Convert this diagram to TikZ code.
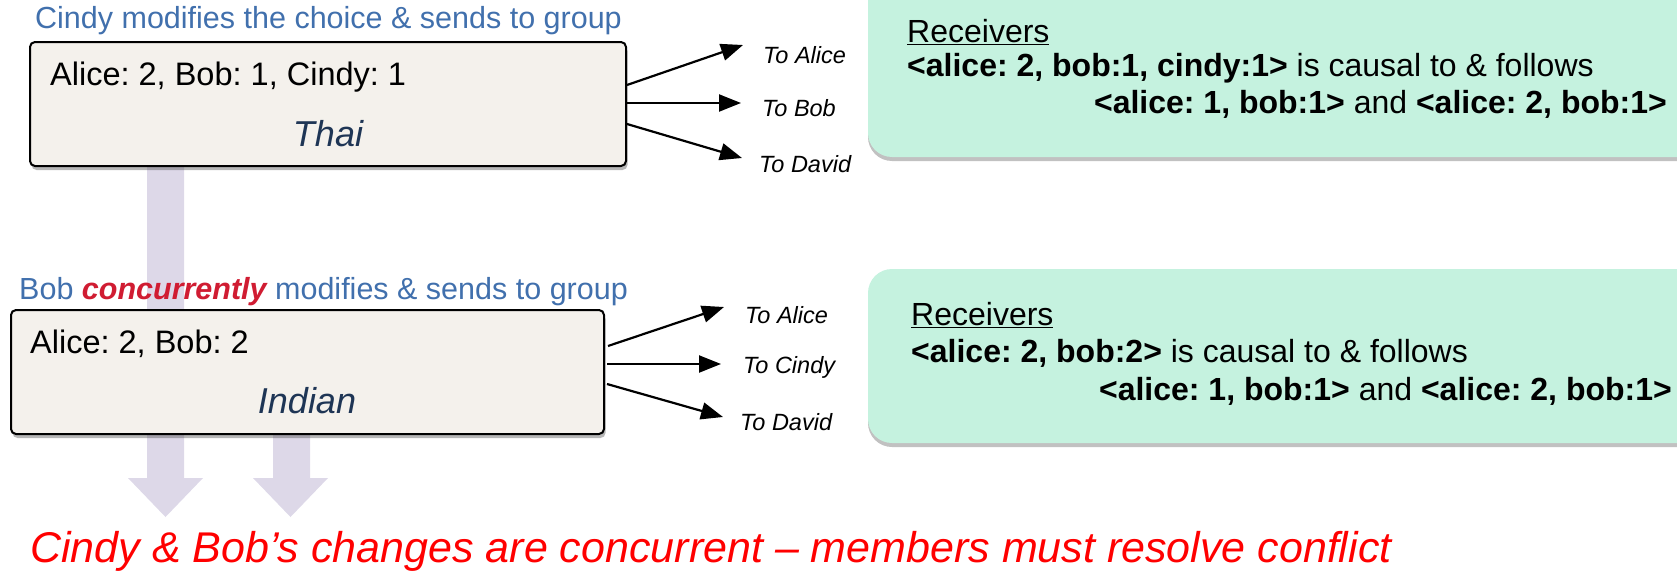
\documentclass[tikz,border=0pt]{standalone}
\usepackage{fontspec}
\setmainfont{Liberation Sans}
\usetikzlibrary{shadows,arrows.meta}
\definecolor{capblue}{HTML}{4170AD}
\definecolor{boxfill}{HTML}{F4F1EC}
\definecolor{valblue}{HTML}{1E3555}
\definecolor{mint}{HTML}{C5F2DF}
\definecolor{lav}{HTML}{DDD8E8}
\definecolor{concred}{HTML}{D01C32}
\newcommand{\fsz}[1]{\fontsize{#1}{#1}\selectfont}
\begin{document}
\frenchspacing
\begin{tikzpicture}[x=1pt,y=-1pt,
  msgbox/.style={draw=black, line width=2pt, fill=boxfill, rounded corners=5pt, inner sep=0pt,
    drop shadow={shadow xshift=1.5pt, shadow yshift=-4pt, opacity=0.4, fill=black!70}},
  recvbox/.style={fill=mint, rounded corners=24pt, inner sep=0pt,
    drop shadow={shadow xshift=0pt, shadow yshift=-4pt, opacity=0.35, fill=black!70}},
  caption/.style={anchor=west, inner sep=0pt, text=capblue, font=\fsz{30.5}},
  vals/.style={anchor=west, inner sep=0pt, font=\fsz{32.5}},
  dish/.style={inner sep=0pt, text=valblue, font=\fsz{36}\itshape},
  tolabel/.style={anchor=west, inner sep=0pt, font=\fsz{23.5}\itshape},
  recvtext/.style={inner sep=0pt, font=\fsz{32}},
  sendarrow/.style={line width=2.2pt, -{Triangle[length=22pt,width=17pt]}},
  bigarrow/.style={fill=lav}
]
\useasboundingbox (0,0) rectangle (1677,570);

% purple flow arrows (behind boxes)
\fill[bigarrow] (147,150) -- (184,150) -- (184,478) -- (203,478) -- (165.5,517) -- (128,478) -- (147,478) -- cycle;
\fill[bigarrow] (273,400) -- (310,400) -- (310,478) -- (328,478) -- (290.5,517) -- (253,478) -- (273,478) -- cycle;

% top section
\node[caption] (cap1) at (35,21) {Cindy modifies the choice \& sends to group};
\node[msgbox, minimum width=596pt, minimum height=124pt] (box1) at (328,104) {};
\node[vals] (v1) at (50,77) {Alice: 2, Bob: 1, Cindy: 1};
\node[dish] (d1) at (328,134) {Thai};

\coordinate (s1a) at (627,85);  \coordinate (e1a) at (743,45);
\coordinate (s1b) at (627,103); \coordinate (e1b) at (741,103);
\coordinate (s1c) at (627,124); \coordinate (e1c) at (742,158);
\draw[sendarrow] (s1a) -- (e1a);
\draw[sendarrow] (s1b) -- (e1b);
\draw[sendarrow] (s1c) -- (e1c);
\node[tolabel] (t1a) at (763,55) {To Alice};
\node[tolabel] (t1b) at (762,108) {To Bob};
\node[tolabel] (t1c) at (759,164) {To David};

\node[recvbox, minimum width=852pt, minimum height=197pt] (g1) at (1294,58.5) {};
\node[recvtext, anchor=west] (r1a) at (907,32) {\underline{Receivers}};
\node[recvtext, anchor=west] (r1b) at (907,68) {\textbf{<alice: 2, bob:1, cindy:1>} is causal to \& follows};
\node[recvtext, anchor=east] (r1c) at (1667,104) {\textbf{<alice: 1, bob:1>} and \textbf{<alice: 2, bob:1>}};

% bottom section
\node[caption] (cap2) at (19,292) {Bob \textcolor{concred}{\bfseries\itshape concurrently} modifies \& sends to group};
\node[msgbox, minimum width=593pt, minimum height=124pt] (box2) at (307.5,372) {};
\node[vals] (v2) at (30,344) {Alice: 2, Bob: 2};
\node[dish] (d2) at (307,401) {Indian};

\coordinate (s2a) at (608,346); \coordinate (e2a) at (724,307);
\coordinate (s2b) at (607,364); \coordinate (e2b) at (721,364);
\coordinate (s2c) at (607,384); \coordinate (e2c) at (723,417);
\draw[sendarrow] (s2a) -- (e2a);
\draw[sendarrow] (s2b) -- (e2b);
\draw[sendarrow] (s2c) -- (e2c);
\node[tolabel] (t2a) at (745,315) {To Alice};
\node[tolabel] (t2b) at (743,367) {To Cindy};
\node[tolabel] (t2c) at (740,422) {To David};

\node[recvbox, minimum width=852pt, minimum height=174pt] (g2) at (1294,356) {};
\node[recvtext, anchor=west] (r2a) at (911,315) {\underline{Receivers}};
\node[recvtext, anchor=west] (r2b) at (911,353) {\textbf{<alice: 2, bob:2>} is causal to \& follows};
\node[recvtext, anchor=east] (r2c) at (1672,391) {\textbf{<alice: 1, bob:1>} and \textbf{<alice: 2, bob:1>}};

% conclusion
\node[anchor=base west, inner sep=0pt, text=red, font=\fsz{43}\itshape] (concl) at (30,562) {Cindy \& Bob’s changes are concurrent – members must resolve conflict};
\end{tikzpicture}
\end{document}
